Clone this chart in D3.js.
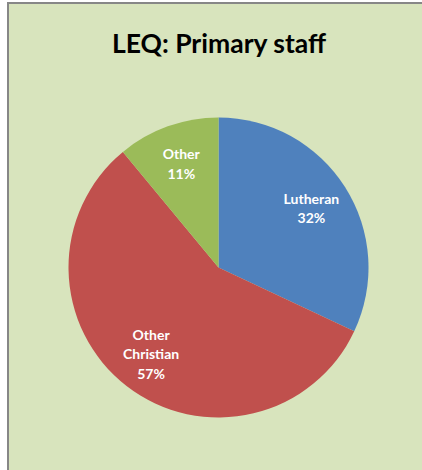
<!DOCTYPE html>
<html>
<head>
<meta charset="utf-8">
<script src="https://cdn.jsdelivr.net/npm/d3@7"></script>
<style>
html,body{margin:0;padding:0;background:#ffffff;}
svg{display:block;}
</style>
</head>
<body>
<svg id="chart" width="422" height="470"></svg>
<script>
const title = "LEQ: Primary staff";
const categories = ["Lutheran", "Other Christian", "Other"];
const values = [32, 57, 11];
const labelLines = [["Lutheran"], ["Other", "Christian"], ["Other"]];
const colors = ["#4f81bd", "#c0504d", "#9bbb59"];

const W = 422, H = 470;
const svg = d3.select("#chart");

svg.append("rect").attr("x", 8).attr("y", 3).attr("width", W + 10).attr("height", H + 10)
  .attr("fill", "#d8e4bd").attr("stroke", "#878787").attr("stroke-width", 2);

svg.append("text").attr("x", 219).attr("y", 53).attr("text-anchor", "middle")
  .attr("font-family", "Lato, 'Open Sans', sans-serif").attr("font-weight", "bold")
  .attr("font-size", 26.5).attr("fill", "#000").text(title);

const cx = 218.5, cy = 267.5, R = 150;
const pie = d3.pie().sort(null).value(d => d)(values);
const arc = d3.arc().innerRadius(0).outerRadius(R);
const labelArc = d3.arc().innerRadius(110).outerRadius(110);

const g = svg.append("g").attr("transform", `translate(${cx},${cy})`);
g.selectAll("path").data(pie).join("path")
  .attr("d", arc).attr("fill", (d, i) => colors[i]);

const fmt = d3.format(".0%");
const total = d3.sum(values);
g.selectAll("text.lbl").data(pie).join("text").attr("class", "lbl")
  .attr("text-anchor", "middle")
  .attr("font-family", "Lato, 'Open Sans', sans-serif").attr("font-weight", "bold")
  .attr("font-size", 14).attr("fill", "#ffffff")
  .each(function (d, i) {
    const [x, y] = labelArc.centroid(d);
    const lines = labelLines[i].concat([fmt(values[i] / total)]);
    const lh = 19.5;
    const y0 = y - (lines.length - 1) * lh / 2 + 5;
    const t = d3.select(this);
    lines.forEach((ln, k) => {
      t.append("tspan").attr("x", x).attr("y", y0 + k * lh).text(ln);
    });
  });
</script>
</body>
</html>
